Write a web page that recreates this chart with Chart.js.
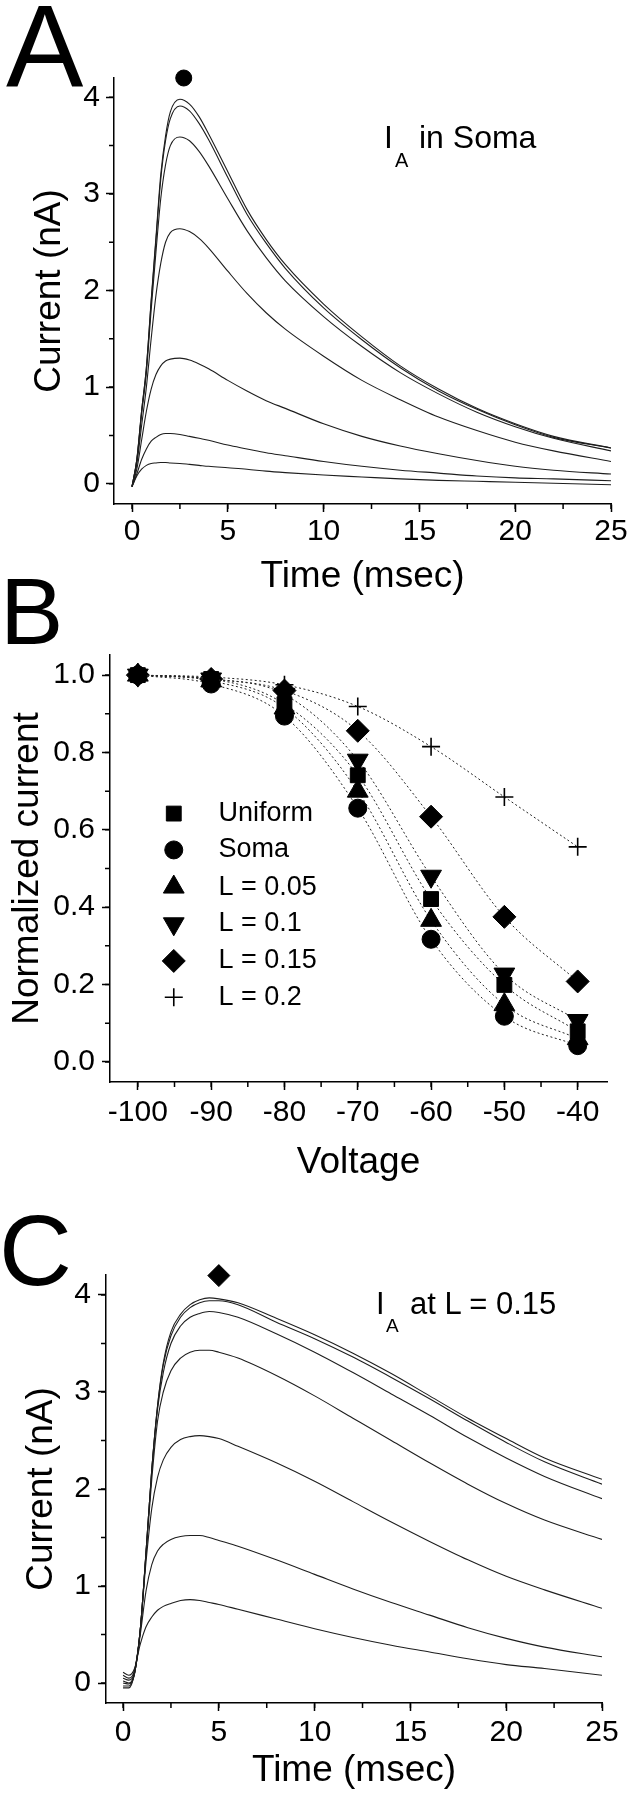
<!DOCTYPE html>
<html lang="en">
<head>
<meta charset="UTF-8">
<title>A-type current: soma vs dendrite</title>
<script src="https://cdn.jsdelivr.net/npm/chart.js@4.4.1/dist/chart.umd.min.js"></script>
<style>
    * { margin: 0; padding: 0; box-sizing: border-box; }
    body { background: #fff; width: 635px; height: 1800px; overflow: hidden; color: #000;
           font-family: 'Liberation Sans', Arial, sans-serif; }
    .figure { position: relative; width: 635px; height: 1800px; }
    canvas { position: absolute; left: 0; }
    .txt { position: absolute; line-height: 1; white-space: nowrap; }
</style>
</head>
<body>
<div class="figure">
    <canvas id="chartA" width="635" height="610" style="top:0"></canvas>
    <canvas id="chartB" width="635" height="575" style="top:615px"></canvas>
    <canvas id="chartC" width="635" height="610" style="top:1190px"></canvas>

    <!-- panel letters -->
    <div class="txt" style="left:6px;top:-11px;font-size:116px">A</div>
    <div class="txt" style="left:0;top:564px;font-size:95px">B</div>
    <div class="txt" style="left:-1px;top:1200px;font-size:101px">C</div>

    <!-- in-plot labels -->
    <div class="txt" style="left:384px;top:121px;font-size:32px">I</div>
    <div class="txt" style="left:395px;top:150px;font-size:20px">A</div>
    <div class="txt" style="left:419px;top:121px;font-size:32px">in Soma</div>

    <div class="txt" style="left:376px;top:1288px;font-size:31px">I</div>
    <div class="txt" style="left:386px;top:1316px;font-size:19px">A</div>
    <div class="txt" style="left:410px;top:1288px;font-size:31px">at L = 0.15</div>
</div>

<script>
    const FONT = "'Liberation Sans', Arial, sans-serif";

    // ---- Panel A: I_A recorded in soma (nA vs msec) ----
    const timeA = [0, 0.25, 0.5, 0.75, 1, 1.25, 1.5, 1.75, 2, 2.5, 3, 3.5, 4, 5, 6, 7, 8, 10, 12, 14, 16, 18, 20, 22, 25];
    const somaA1 = [-0.03, 0.25, 0.75, 1.2, 1.9, 2.55, 3.2, 3.6, 3.85, 3.98, 3.93, 3.8, 3.62, 3.23, 2.84, 2.53, 2.27, 1.86, 1.52, 1.22, 0.98, 0.78, 0.62, 0.49, 0.37];
    const somaA2 = [-0.03, 0.25, 0.75, 1.2, 1.88, 2.52, 3.15, 3.55, 3.78, 3.91, 3.86, 3.73, 3.56, 3.17, 2.79, 2.49, 2.23, 1.82, 1.49, 1.2, 0.96, 0.77, 0.61, 0.48, 0.37];
    const somaA3 = [-0.03, 0.24, 0.72, 1.15, 1.8, 2.4, 2.95, 3.3, 3.5, 3.59, 3.55, 3.44, 3.29, 2.95, 2.62, 2.34, 2.1, 1.73, 1.42, 1.15, 0.93, 0.74, 0.59, 0.47, 0.34];
    const somaA4 = [-0.03, 0.2, 0.6, 1.0, 1.5, 1.95, 2.28, 2.5, 2.6, 2.64, 2.61, 2.54, 2.44, 2.2, 1.97, 1.77, 1.6, 1.32, 1.07, 0.87, 0.69, 0.55, 0.43, 0.34, 0.23];
    const somaA5 = [-0.03, 0.15, 0.45, 0.75, 0.98, 1.13, 1.22, 1.27, 1.29, 1.3, 1.28, 1.24, 1.19, 1.07, 0.96, 0.86, 0.78, 0.62, 0.49, 0.39, 0.31, 0.24, 0.18, 0.14, 0.1];
    const somaA6 = [-0.03, 0.1, 0.25, 0.36, 0.44, 0.48, 0.51, 0.52, 0.52, 0.51, 0.49, 0.47, 0.45, 0.4, 0.36, 0.32, 0.29, 0.23, 0.18, 0.14, 0.11, 0.08, 0.06, 0.05, 0.03];
    const somaA7 = [-0.03, 0.08, 0.15, 0.19, 0.21, 0.215, 0.22, 0.22, 0.215, 0.21, 0.2, 0.19, 0.18, 0.165, 0.15, 0.13, 0.115, 0.09, 0.07, 0.05, 0.035, 0.025, 0.015, 0.005, -0.01];
    const markA = { x: 2.7, y: 4.2 };   // filled circle above the peak

    // ---- Panel B: normalized current vs holding voltage ----
    const voltages = [-100, -90, -80, -70, -60, -50, -40];
    const seriesNames = ['Uniform', 'Soma', 'L = 0.05', 'L = 0.1', 'L = 0.15', 'L = 0.2'];
    const uniform = [1.0, 0.99, 0.925, 0.741, 0.421, 0.199, 0.079];
    const soma = [1.0, 0.977, 0.894, 0.656, 0.317, 0.118, 0.042];
    const l005 = [1.0, 0.985, 0.915, 0.70, 0.366, 0.148, 0.06];
    const l01 = [1.0, 0.99, 0.95, 0.78, 0.48, 0.227, 0.107];
    const l015 = [1.0, 0.99, 0.96, 0.856, 0.634, 0.375, 0.208];
    const l02 = [1.0, 0.995, 0.975, 0.919, 0.815, 0.685, 0.556];
    const legendRows = [0.642, 0.548, 0.452, 0.357, 0.261, 0.167];
    const legendMarkerV = -95.1;
    const legendTextV = -89.0;

    // ---- Panel C: I_A at L = 0.15 ----
    const timeC = [0, 0.3, 0.6, 0.9, 1.2, 1.5, 1.8, 2.1, 2.5, 3, 3.5, 4, 4.5, 5, 6, 8, 10, 12, 14, 16, 18, 20, 22, 25];
    const distC1 = [-0.05, -0.05, 0.1, 0.55, 1.35, 2.2, 2.86, 3.3, 3.62, 3.8, 3.9, 3.95, 3.97, 3.96, 3.92, 3.76, 3.59, 3.4, 3.19, 2.96, 2.73, 2.52, 2.32, 2.1];
    const distC2 = [-0.03, -0.03, 0.1, 0.55, 1.35, 2.2, 2.85, 3.28, 3.58, 3.77, 3.87, 3.92, 3.94, 3.94, 3.9, 3.72, 3.55, 3.36, 3.15, 2.93, 2.7, 2.48, 2.28, 2.05];
    const distC3 = [0.0, -0.01, 0.1, 0.55, 1.35, 2.2, 2.82, 3.2, 3.5, 3.68, 3.77, 3.81, 3.83, 3.82, 3.77, 3.6, 3.41, 3.2, 2.98, 2.76, 2.53, 2.32, 2.13, 1.9];
    const distC4 = [0.02, 0.0, 0.1, 0.55, 1.33, 2.1, 2.7, 3.0, 3.22, 3.35, 3.41, 3.43, 3.43, 3.41, 3.35, 3.17, 2.96, 2.73, 2.5, 2.27, 2.05, 1.85, 1.68, 1.48];
    const distC5 = [0.05, 0.03, 0.12, 0.55, 1.25, 1.8, 2.12, 2.3, 2.43, 2.51, 2.54, 2.55, 2.54, 2.52, 2.44, 2.27, 2.08, 1.87, 1.66, 1.46, 1.27, 1.1, 0.96, 0.77];
    const distC6 = [0.08, 0.05, 0.13, 0.5, 0.95, 1.22, 1.36, 1.43, 1.48, 1.51, 1.52, 1.52, 1.5, 1.47, 1.41, 1.27, 1.12, 0.97, 0.83, 0.7, 0.57, 0.46, 0.37, 0.27];
    const distC7 = [0.11, 0.08, 0.15, 0.4, 0.58, 0.68, 0.75, 0.79, 0.82, 0.85, 0.86, 0.85, 0.83, 0.81, 0.76, 0.66, 0.56, 0.47, 0.39, 0.32, 0.25, 0.19, 0.15, 0.08];
    const markC = { x: 5.0, y: 4.2 };   // diamond above the peak

    // marker look for each series in B
    const markerStyles = [
        { pointStyle: 'rect', pointRadius: 10.5 },
        { pointStyle: 'circle', pointRadius: 9 },
        { pointStyle: 'triangle', pointRadius: 12 },
        { pointStyle: 'triangle', pointRadius: 12, pointRotation: 180 },
        { pointStyle: 'rectRot', pointRadius: 11.5 },
        { pointStyle: 'cross', pointRadius: 9, pointBorderWidth: 1.6 }
    ];

    // short outward ticks between the labelled ones
    const minorTicks = {
        id: 'minorTicks',
        afterDraw(chart, args, o) {
            const { ctx, scales: { x, y } } = chart;
            ctx.save();
            ctx.strokeStyle = '#000';
            ctx.lineWidth = 1.5;
            ctx.beginPath();
            for (let v = Math.ceil(x.min / o.x) * o.x; v <= x.max + 1e-6; v += o.x) {
                const p = x.getPixelForValue(v);
                ctx.moveTo(p, x.top);
                ctx.lineTo(p, x.top + o.len);
            }
            for (let v = Math.ceil(y.min / o.y) * o.y; v <= y.max + 1e-6; v += o.y) {
                const p = y.getPixelForValue(v);
                ctx.moveTo(y.right, p);
                ctx.lineTo(y.right - o.len, p);
            }
            ctx.stroke();
            ctx.restore();
        }
    };

    // legend sitting inside the plot of panel B
    const legendB = {
        id: 'legendB',
        afterDatasetsDraw(chart) {
            const { ctx, scales: { x, y } } = chart;
            const mx = x.getPixelForValue(legendMarkerV);
            const tx = x.getPixelForValue(legendTextV);
            ctx.save();
            ctx.fillStyle = '#000';
            ctx.strokeStyle = '#000';
            ctx.font = '27px ' + FONT;
            ctx.textAlign = 'left';
            ctx.textBaseline = 'middle';
            seriesNames.forEach((name, i) => {
                const py = y.getPixelForValue(legendRows[i]);
                const st = markerStyles[i];
                ctx.lineWidth = st.pointBorderWidth || 1;
                if (Chart.helpers && Chart.helpers.drawPoint) {
                    Chart.helpers.drawPoint(ctx, {
                        pointStyle: st.pointStyle,
                        rotation: st.pointRotation || 0,
                        radius: st.pointRadius,
                        borderWidth: ctx.lineWidth
                    }, mx, py);
                }
                ctx.fillText(name, tx, py);
            });
            ctx.restore();
        }
    };

    function axis(o) {
        return {
            type: 'linear',
            min: o.min,
            max: o.max,
            afterFit: s => { if (s.isHorizontal()) s.height = o.size; else s.width = o.size; },
            border: { display: true, color: '#000', width: 1.5 },
            grid: { display: true, drawOnChartArea: false, drawTicks: true, tickLength: 8, tickWidth: 1.5, tickColor: '#000' },
            ticks: {
                stepSize: o.step, includeBounds: false, padding: o.pad, color: '#000',
                maxRotation: 0, autoSkip: false,
                font: { family: FONT, size: 30 },
                callback: o.fmt || (v => String(v))
            },
            title: {
                display: true, text: o.title, color: '#000',
                font: { family: FONT, size: 37 }, padding: o.titlePad
            }
        };
    }

    function traceSets(times, traces) {
        return traces.map(vals => ({
            data: times.map((t, i) => ({ x: t, y: vals[i] })),
            borderColor: '#1e1e1e',
            borderWidth: 1.1,
            pointRadius: 0,
            cubicInterpolationMode: 'monotone',
            fill: false
        }));
    }

    function markerSet(pt, style, radius) {
        return {
            data: [pt],
            showLine: false,
            pointStyle: style,
            pointRadius: radius,
            pointBackgroundColor: '#000',
            pointBorderColor: '#000',
            clip: false
        };
    }

    function baseOptions(padding, minor) {
        return {
            responsive: false,
            animation: false,
            devicePixelRatio: 1,
            layout: { padding },
            plugins: { legend: { display: false }, tooltip: { enabled: false }, minorTicks: minor },
            scales: {}
        };
    }

    // Panel A
    const optA = baseOptions({ top: 78, right: 24, bottom: 0, left: 0 }, { x: 2.5, y: 0.5, len: 5 });
    optA.scales.x = axis({ min: -0.94, max: 25, step: 5, size: 106, pad: 2, title: 'Time (msec)', titlePad: { top: 0, bottom: 11 } });
    optA.scales.y = axis({ min: -0.21, max: 4.2, step: 1, size: 114, pad: 6, title: 'Current (nA)', titlePad: { top: 28, bottom: 0 } });
    new Chart(document.getElementById('chartA'), {
        type: 'line',
        data: {
            datasets: traceSets(timeA, [somaA1, somaA2, somaA3, somaA4, somaA5, somaA6, somaA7])
                .concat([markerSet(markA, 'circle', 8)])
        },
        options: optA,
        plugins: [minorTicks]
    });

    // Panel B
    const optB = baseOptions({ top: 40, right: 28, bottom: 0, left: 0 }, { x: 5, y: 0.1, len: 5 });
    optB.scales.x = axis({ min: -103.8, max: -36, step: 10, size: 108, pad: 5, title: 'Voltage', titlePad: { top: 0, bottom: 5 } });
    optB.scales.y = axis({ min: -0.052, max: 1.052, step: 0.2, size: 110, pad: 7, title: 'Normalized current', titlePad: { top: 6, bottom: 0 }, fmt: v => v.toFixed(1) });
    const seriesB = [uniform, soma, l005, l01, l015, l02];
    new Chart(document.getElementById('chartB'), {
        type: 'line',
        data: {
            datasets: seriesB.map((vals, i) => Object.assign({
                label: seriesNames[i],
                data: voltages.map((v, j) => ({ x: v, y: vals[j] })),
                borderColor: '#222',
                borderWidth: 1,
                borderDash: [2, 2.5],
                cubicInterpolationMode: 'monotone',
                pointBackgroundColor: '#000',
                pointBorderColor: '#000',
                pointBorderWidth: 1,
                clip: false
            }, markerStyles[i]))
        },
        options: optB,
        plugins: [minorTicks, legendB]
    });

    // Panel C
    const optC = baseOptions({ top: 85, right: 33, bottom: 0, left: 0 }, { x: 2.5, y: 0.5, len: 5 });
    optC.scales.x = axis({ min: -0.89, max: 25, step: 5, size: 97, pad: 4, title: 'Time (msec)', titlePad: { top: 0, bottom: 7 } });
    optC.scales.y = axis({ min: -0.206, max: 4.206, step: 1, size: 106, pad: 7, title: 'Current (nA)', titlePad: { top: 20, bottom: 0 } });
    new Chart(document.getElementById('chartC'), {
        type: 'line',
        data: {
            datasets: traceSets(timeC, [distC1, distC2, distC3, distC4, distC5, distC6, distC7])
                .concat([markerSet(markC, 'rectRot', 11)])
        },
        options: optC,
        plugins: [minorTicks]
    });
</script>
</body>
</html>
